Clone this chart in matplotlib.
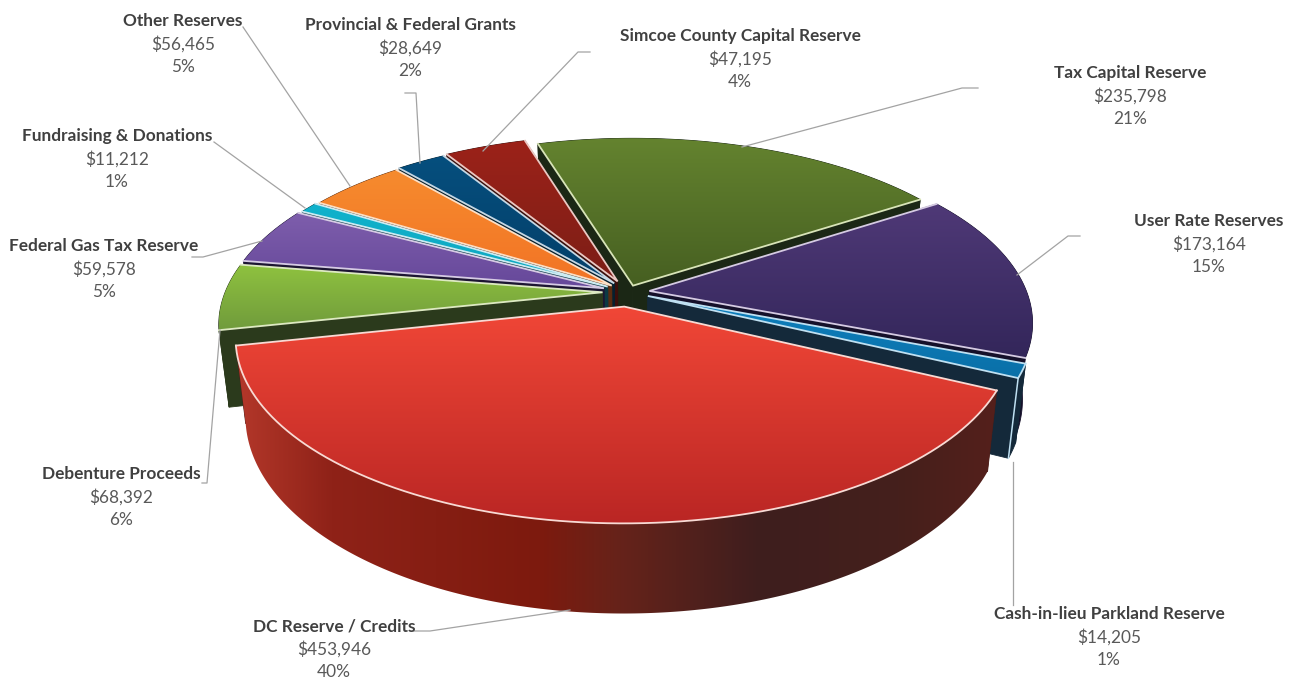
import numpy as np
import matplotlib
matplotlib.use("Agg")
import matplotlib.pyplot as plt
from matplotlib.colors import to_rgb
from matplotlib.patches import Polygon

# Capital funding sources, clockwise from the start angle
names = ["Tax Capital Reserve", "User Rate Reserves", "Cash-in-lieu Parkland Reserve",
         "DC Reserve / Credits", "Debenture Proceeds", "Federal Gas Tax Reserve",
         "Fundraising & Donations", "Other Reserves", "Provincial & Federal Grants",
         "Simcoe County Capital Reserve"]
amounts = [235798, 173164, 14205, 453946, 68392, 59578, 11212, 56465, 28649, 47195]

# Top-face gradients (upper colour, lower colour) and wall colours
top_upper = ["#64832F", "#4F3977", "#0E80BF", "#F14737", "#8FC23F",
             "#7E5EAC", "#10B2CC", "#F68B2E", "#064F7E", "#9C2219"]
top_lower = ["#465F21", "#33265A", "#0A70A8", "#BA2624", "#709B3C",
             "#66489A", "#0FA6BF", "#F27325", "#033F69", "#7C1E16"]
wall_color = ["#1B2715", "#15102A", "#14293A", "#4A1F1A", "#2B3A1C",
              "#1C1532", "#0B3A44", "#5A2C10", "#04202F", "#3A0F0B"]
edge_color = ["#D8E4B8", "#D5CBE2", "#BFE0F2", "#F8DAD4", "#DDE9C2",
              "#D6CBE4", "#CDEBF2", "#FBE0C8", "#C7D8E4", "#EBC9C4"]

# Distance each slice is pulled away from the hub
explode = [15, 22, 22, 32, 26, 26, 24, 22, 24, 26]
# Back-to-front painting order
paint_order = [0, 9, 8, 7, 6, 5, 4, 1, 2, 3]

# Label anchor (centre x, first-line y) for each slice
label_x = [1130, 1209, 1109, 334, 121, 104, 117, 183, 410, 740]
label_y = [73, 221, 614, 626, 474, 246, 136, 21, 25, 36]

# Leader polylines from each label to its slice
leaders = [
    [(978, 88), (962, 88), (742, 147)],
    [(1080, 236), (1068, 236), (1017, 275)],
    [(1013, 605), (1013, 462)],
    [(414, 631), (430, 631), (570, 610)],
    [(202, 483), (207, 483), (220, 330)],
    [(192, 257), (203, 257), (262, 241)],
    [(214, 142), (305, 208)],
    [(243, 27), (350, 186)],
    [(405, 93), (416, 93), (420, 163)],
    [(590, 52), (578, 52), (483, 151)],
]

# Side-wall shading of the largest slice, left to right across the figure
red_wall_x = [225, 330, 540, 620, 760, 900, 1000]
red_wall_c = ["#B83A2C", "#8F2218", "#7D1A0E", "#66231A", "#3E1E1E", "#45201C", "#551F1B"]

START_DEG = -17.0
HUB_X, HUB_Y = 628.0, 292.0
RADIUS = 385.0
WIDTH_SCALE = 0.98
PERSPECTIVE = 0.17
TILT = 0.453


def project(x, y):
    s = 1.0 / (1.0 + PERSPECTIVE * y / RADIUS)
    return HUB_X + WIDTH_SCALE * x * s, HUB_Y - TILT * y * s


def drop(X, Y):
    # Move a point on the top face down to the base of the pie
    return HUB_X + (X - HUB_X) * 0.975, Y + 74.4 + 0.068 * (Y - HUB_Y)


def gradient_fill(ax, pts, stops_pos, stops_col, axis, z):
    poly = Polygon(pts, closed=True, fc="none", ec="none", zorder=z)
    ax.add_patch(poly)
    x0, x1 = pts[:, 0].min(), pts[:, 0].max()
    y0, y1 = pts[:, 1].min(), pts[:, 1].max()
    lo, hi = (x0, x1) if axis == "x" else (y0, y1)
    t = np.linspace(lo, hi, 256)
    rgb = np.array([to_rgb(c) for c in stops_col])
    ramp = np.stack([np.interp(t, stops_pos, rgb[:, i]) for i in range(3)], axis=-1)
    img = ramp[None, :, :] if axis == "x" else ramp[:, None, :]
    im = ax.imshow(img, extent=(x0, x1, y1, y0), aspect="auto", zorder=z,
                   interpolation="bilinear")
    im.set_clip_path(poly)
    return im


fig = plt.figure(figsize=(12.89, 6.80), dpi=100, facecolor="white")
ax = fig.add_axes([0, 0, 1, 1])
ax.axis("off")

total = sum(amounts)
sweep = np.array(amounts) / total * 360.0
starts = START_DEG + np.concatenate([[0], np.cumsum(sweep)[:-1]])

z = 1
for i in paint_order:
    th = np.radians(np.linspace(starts[i], starts[i] + sweep[i], max(int(sweep[i] * 2), 3)))
    mid = np.radians(starts[i] + sweep[i] / 2)
    ex, ey = explode[i] * np.sin(mid), explode[i] * np.cos(mid)
    rx, ry = project(ex + RADIUS * np.sin(th), ey + RADIUS * np.cos(th))
    ax_, ay_ = project(ex, ey)
    bx, by = drop(rx, ry)
    abx, aby = drop(ax_, ay_)

    # Radial walls, then the curved outer wall, then the top face
    for k in (0, -1):
        ax.add_patch(Polygon([(ax_, ay_), (rx[k], ry[k]), (bx[k], by[k]), (abx, aby)],
                             closed=True, fc=wall_color[i], ec=wall_color[i], lw=0.6, zorder=z))
    z += 1
    outer = np.vstack([np.column_stack([rx, ry]), np.column_stack([bx, by])[::-1]])
    if i == 3:
        gradient_fill(ax, outer, red_wall_x, red_wall_c, "x", z)
    else:
        ax.add_patch(Polygon(outer, closed=True, fc=wall_color[i], ec=wall_color[i],
                             lw=0.6, zorder=z))
    z += 1
    top = np.vstack([[ax_, ay_], np.column_stack([rx, ry])])
    ymin, ymax = top[:, 1].min(), top[:, 1].max()
    gradient_fill(ax, top, [ymin, ymax], [top_upper[i], top_lower[i]], "y", z)
    z += 1
    ax.plot([rx[0], ax_, rx[-1]], [ry[0], ay_, ry[-1]], color=edge_color[i], lw=1.3,
            solid_joinstyle="miter", zorder=z)
    if i in (2, 3):
        ax.plot(rx, ry, color=edge_color[i], lw=1.3, zorder=z)
    if i == 2:
        # Lit corner where the thin slice's end wall meets its outer wall
        ax.plot([rx[-1], bx[-1]], [ry[-1], by[-1]], color=edge_color[i], lw=1.1, zorder=z)
    z += 1

for path in leaders:
    xs, ys = zip(*path)
    ax.plot(xs, ys, color="#A3A3A3", lw=0.9, zorder=z)
z += 1

LINE = 23
SIZE = 12.45
for i, name in enumerate(names):
    ax.text(label_x[i], label_y[i], name, ha="center", va="center", family="Lato",
            fontweight="bold", fontsize=SIZE, color="#404040", zorder=z)
    ax.text(label_x[i], label_y[i] + LINE, f"${amounts[i]:,}", ha="center", va="center",
            family="Lato", fontsize=SIZE, color="#595959", zorder=z)
    ax.text(label_x[i], label_y[i] + 2 * LINE, f"{round(amounts[i] / total * 100)}%",
            ha="center", va="center", family="Lato", fontsize=SIZE, color="#595959", zorder=z)

ax.set_xlim(0, 1289)
ax.set_ylim(680, 0)
fig.savefig("out.png", dpi=100, facecolor="white")
